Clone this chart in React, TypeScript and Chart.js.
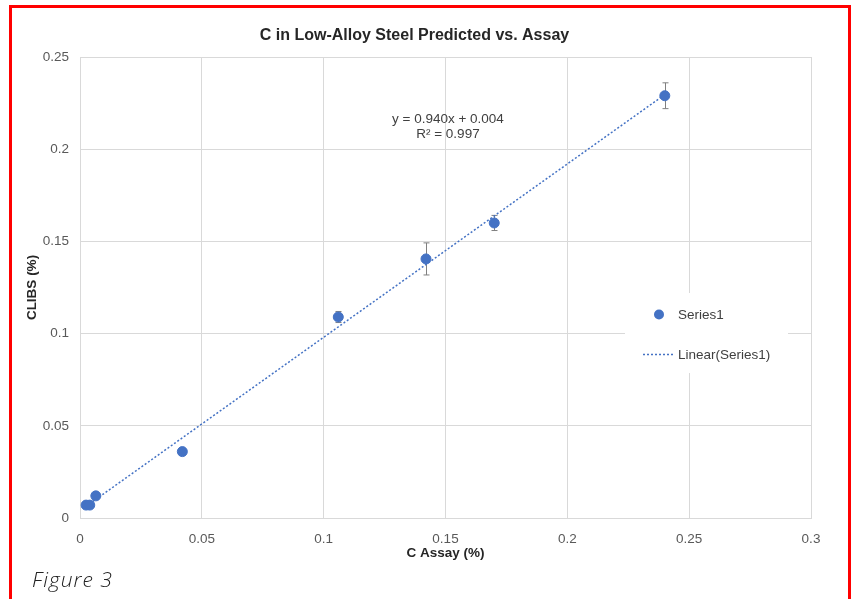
import React, { useEffect, useRef } from "react";
import { Chart, registerables } from "chart.js";

Chart.register(...registerables);

// ---------- data ----------
const TITLE = "C in Low-Alloy Steel Predicted vs. Assay";
const X_TITLE = "C Assay (%)";
const Y_TITLE = "CLIBS (%)";
const SERIES_NAME = "Series1";
const TREND_NAME = "Linear(Series1)";
const CAPTION = "Figure 3";

const ASSAY = [0.0025, 0.004, 0.0065, 0.042, 0.106, 0.142, 0.17, 0.24];
const CLIBS = [0.007, 0.007, 0.012, 0.036, 0.109, 0.1405, 0.16, 0.229];
const CLIBS_ERR = [0, 0, 0, 0, 0.003, 0.0087, 0.0041, 0.007];

const TREND_SLOPE = 0.94;
const TREND_INTERCEPT = 0.004;
const TREND_X = [0.0025, 0.24];
const EQUATION_LINES = ["y = 0.940x + 0.004", "R\u00B2 = 0.997"];

const X_TICK_LABELS = ["0", "0.05", "0.1", "0.15", "0.2", "0.25", "0.3"];
const Y_TICK_LABELS = ["0", "0.05", "0.1", "0.15", "0.2", "0.25"];

// ---------- styles ----------
const FONT = "'Liberation Sans', Arial, Helvetica, sans-serif";
const BLUE = "#4472C4";
const GRID = "#d9d9d9";
const TICK_COLOR = "#595959";
const TEXT_COLOR = "#404040";
const EQ_ANCHOR = { x: 0.151, y: 0.2164 };

Chart.defaults.font.family = FONT;

const errorBarPlugin = {
  id: "errorBars",
  beforeDatasetsDraw(chart: any) {
    const { ctx } = chart;
    const xs = chart.scales.x;
    const ys = chart.scales.y;
    ctx.save();
    ctx.strokeStyle = "#808080";
    ctx.lineWidth = 1;
    ASSAY.forEach((xv, i) => {
      const e = CLIBS_ERR[i];
      if (!e) return;
      const px = Math.round(xs.getPixelForValue(xv)) + 0.5;
      const top = ys.getPixelForValue(CLIBS[i] + e);
      const bot = ys.getPixelForValue(CLIBS[i] - e);
      ctx.beginPath();
      ctx.moveTo(px, top);
      ctx.lineTo(px, bot);
      ctx.moveTo(px - 3, top);
      ctx.lineTo(px + 3, top);
      ctx.moveTo(px - 3, bot);
      ctx.lineTo(px + 3, bot);
      ctx.stroke();
    });
    ctx.restore();
  },
};

const overlayPlugin = {
  id: "overlay",
  afterDatasetsDraw(chart: any) {
    const { ctx, chartArea: ca } = chart;
    const xs = chart.scales.x;
    const ys = chart.scales.y;
    ctx.save();
    // equation
    ctx.font = `13.5px ${FONT}`;
    ctx.fillStyle = TEXT_COLOR;
    ctx.textAlign = "center";
    ctx.textBaseline = "middle";
    const ex = xs.getPixelForValue(EQ_ANCHOR.x);
    const ey = ys.getPixelForValue(EQ_ANCHOR.y);
    EQUATION_LINES.forEach((t, i) => ctx.fillText(t, ex, ey + i * 15));

    // legend
    const lx = ca.right - 186;
    const ly = ca.top + 236;
    ctx.fillStyle = "#ffffff";
    ctx.fillRect(lx, ly, 163, 80);
    ctx.fillStyle = BLUE;
    ctx.beginPath();
    ctx.arc(lx + 34, ly + 21.5, 5, 0, Math.PI * 2);
    ctx.fill();
    ctx.strokeStyle = BLUE;
    ctx.lineWidth = 1.5;
    ctx.setLineDash([2, 2]);
    ctx.beginPath();
    ctx.moveTo(lx + 18, ly + 61.5);
    ctx.lineTo(lx + 49, ly + 61.5);
    ctx.stroke();
    ctx.setLineDash([]);
    ctx.fillStyle = TEXT_COLOR;
    ctx.textAlign = "left";
    ctx.fillText(SERIES_NAME, lx + 53, ly + 22);
    ctx.fillText(TREND_NAME, lx + 53, ly + 62);
    ctx.restore();
  },
};

export default function App() {
  const ref = useRef<HTMLCanvasElement>(null);

  useEffect(() => {
    if (!ref.current) return;
    const points = ASSAY.map((x, i) => ({ x, y: CLIBS[i] }));
    const trend = TREND_X.map((x) => ({ x, y: TREND_SLOPE * x + TREND_INTERCEPT }));
    const chart = new Chart(ref.current, {
      type: "scatter",
      data: {
        datasets: [
          {
            label: SERIES_NAME,
            data: points,
            pointRadius: 5,
            pointBackgroundColor: BLUE,
            pointBorderColor: BLUE,
            pointBorderWidth: 1,
            showLine: false,
          },
          {
            label: TREND_NAME,
            data: trend,
            showLine: true,
            pointRadius: 0,
            borderColor: BLUE,
            borderWidth: 1.5,
            borderDash: [2, 2],
            fill: false,
          },
        ],
      },
      options: {
        responsive: false,
        animation: false,
        layout: { padding: { left: 18, right: 44, top: 10, bottom: 36 } },
        plugins: {
          legend: { display: false },
          tooltip: { enabled: false },
          title: {
            display: true,
            text: TITLE,
            color: "#262626",
            font: { size: 16, weight: "bold", family: FONT },
            padding: { top: 16.4, bottom: 11.4 },
          },
        },
        scales: {
          x: {
            type: "linear",
            min: 0,
            max: 0.3,
            afterFit: (s: any) => {
              s.height = 45;
            },
            ticks: {
              stepSize: 0.05,
              padding: 13,
              color: TICK_COLOR,
              font: { size: 13.5 },
              maxRotation: 0,
              autoSkip: false,
              callback: (_v: any, i: number) => X_TICK_LABELS[i] ?? "",
            },
            grid: { color: GRID, drawTicks: false },
            border: { color: GRID },
            title: {
              display: true,
              text: X_TITLE,
              color: "#262626",
              font: { size: 13.5, weight: "bold" },
              padding: { top: 0, bottom: 2 },
            },
          },
          y: {
            type: "linear",
            min: 0,
            max: 0.25,
            afterFit: (s: any) => {
              s.width = 62;
            },
            ticks: {
              stepSize: 0.05,
              padding: 11,
              color: TICK_COLOR,
              font: { size: 13.5 },
              autoSkip: false,
              callback: (_v: any, i: number) => Y_TICK_LABELS[i] ?? "",
            },
            grid: { color: GRID, drawTicks: false },
            border: { color: GRID },
            title: {
              display: true,
              text: Y_TITLE,
              color: "#262626",
              font: { size: 13.5, weight: "bold" },
              padding: { top: 6, bottom: 0 },
            },
          },
        },
      },
      plugins: [errorBarPlugin, overlayPlugin],
    } as any);
    return () => chart.destroy();
  }, []);

  return (
    <div
      style={{
        position: "fixed",
        left: 0,
        top: 0,
        width: 855,
        height: 599,
        overflow: "hidden",
        background: "#ffffff",
      }}
    >
      <div
        style={{
          position: "absolute",
          left: 9,
          top: 5,
          width: 842,
          height: 700,
          border: "3px solid #ff0000",
          boxSizing: "border-box",
        }}
      />
      <canvas
        ref={ref}
        width={855}
        height={599}
        style={{ position: "absolute", left: 0, top: 0, width: 855, height: 599 }}
      />
      <div
        style={{
          position: "absolute",
          left: 32,
          top: 567,
          fontFamily: "'Open Sans', sans-serif",
          fontStyle: "italic",
          fontWeight: 300,
          fontSize: 21,
          lineHeight: "24px",
          color: "#222222",
          letterSpacing: 1,
          whiteSpace: "nowrap",
        }}
      >
        {CAPTION}
      </div>
    </div>
  );
}
